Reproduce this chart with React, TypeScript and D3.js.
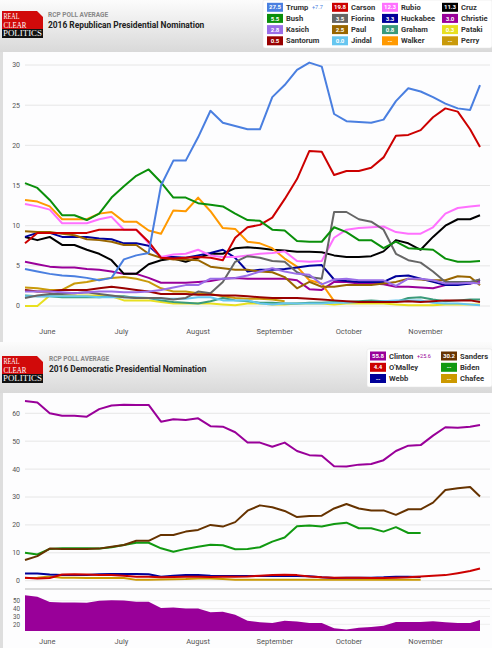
import { useEffect } from "react";
import * as d3 from "d3";

// sample dates (2015), every 5 days plus the last day
const dates = [
  "05-23", "05-28", "06-02", "06-07", "06-12", "06-17", "06-22", "06-27",
  "07-02", "07-07", "07-12", "07-17", "07-22", "07-27", "08-01", "08-06",
  "08-11", "08-16", "08-21", "08-26", "08-31", "09-05", "09-10", "09-15",
  "09-20", "09-25", "09-30", "10-05", "10-10", "10-15", "10-20", "10-25",
  "10-30", "11-04", "11-09", "11-14", "11-19", "11-23",
];

// Republican series
const trump = [4.6, 4.3, 4.0, 3.8, 3.7, 3.5, 3.2, 3.5, 5.8, 6.3, 6.6, 15, 18.1, 18.1, 21, 24.3, 22.8, 22.4, 22.0, 22.0, 26, 27.5, 29.4, 30.3, 29.8, 23.9, 23.0, 22.9, 22.8, 23.2, 25.5, 27.1, 26.7, 26.0, 25.2, 24.6, 24.4, 27.5];
const carson = [7.8, 9.1, 9.1, 9.1, 9.1, 9.1, 9.5, 9.5, 9.5, 9.5, 8.0, 6.0, 5.9, 6.0, 6.1, 6.0, 5.7, 8.5, 9.8, 10.1, 11.0, 13.3, 15.8, 19.3, 19.2, 16.3, 16.8, 16.8, 17.2, 18.5, 21.2, 21.3, 21.9, 23.5, 24.6, 24.2, 22.0, 19.8];
const rubio = [12.7, 12.4, 12.0, 10.3, 10.3, 10.3, 10.8, 11.1, 9.5, 9.5, 7.8, 6.1, 6.4, 6.5, 7.0, 6.3, 6.1, 6.1, 6.3, 6.5, 6.6, 6.8, 5.6, 5.5, 5.6, 8.5, 9.5, 9.7, 9.8, 9.9, 9.2, 9.0, 9.0, 9.8, 11.5, 12.2, 12.4, 12.5];
const cruz = [8.6, 8.2, 8.6, 7.6, 7.6, 7.0, 6.5, 5.7, 4.0, 4.0, 5.2, 5.7, 5.9, 5.5, 6.0, 6.5, 6.5, 7.2, 7.3, 7.2, 7.0, 6.9, 6.75, 6.75, 6.7, 6.3, 6.1, 6.1, 6.2, 6.8, 8.2, 7.8, 7.0, 8.6, 10.0, 10.8, 10.8, 11.3];
const bush = [15.3, 14.7, 13.2, 11.3, 11.3, 10.7, 11.5, 13.5, 14.9, 16.2, 17.0, 15.4, 13.5, 13.5, 12.8, 12.6, 12.4, 11.5, 10.7, 10.6, 9.5, 9.4, 8.1, 8.0, 8.0, 9.8, 9.2, 8.2, 8.2, 7.2, 8.0, 7.2, 7.1, 7.0, 5.9, 5.5, 5.5, 5.6];
const fiorina = [1.0, 1.3, 1.5, 1.5, 1.6, 1.7, 1.5, 1.3, 1.1, 1.0, 1.0, 1.0, 0.8, 1.0, 1.8, 1.6, 3.0, 5.5, 6.2, 6.0, 5.6, 5.5, 4.2, 3.6, 3.4, 11.7, 11.7, 10.8, 10.5, 9.5, 6.5, 5.7, 5.4, 4.3, 3.0, 3.0, 3.0, 3.3];
const huckabee = [8.6, 9.1, 9.1, 8.6, 8.6, 8.6, 8.4, 8.3, 7.8, 7.8, 7.5, 6.1, 6.1, 6.0, 6.3, 6.6, 7.0, 6.0, 4.3, 4.5, 4.5, 4.6, 4.8, 5.0, 5.1, 3.3, 3.1, 3.0, 3.0, 3.0, 3.7, 3.8, 3.4, 3.0, 2.6, 2.6, 2.8, 3.3];
const christie = [5.5, 5.2, 4.9, 4.8, 4.8, 4.6, 4.5, 4.3, 4.0, 4.0, 3.5, 2.9, 2.9, 2.9, 3.0, 3.1, 3.4, 3.5, 3.4, 3.4, 3.4, 3.4, 3.2, 2.1, 2.0, 3.0, 3.0, 2.8, 2.8, 2.7, 2.4, 2.4, 2.3, 2.2, 2.6, 2.8, 2.8, 3.0];
const kasich = [1.8, 1.8, 1.8, 1.7, 1.6, 1.7, 1.8, 1.8, 1.7, 1.7, 1.8, 2.0, 2.3, 2.6, 2.6, 3.4, 3.4, 3.5, 3.8, 4.3, 4.7, 4.3, 4.0, 3.9, 2.7, 3.3, 3.4, 3.2, 3.2, 3.2, 2.5, 3.4, 3.4, 3.2, 2.8, 2.8, 2.9, 2.8];
const paul = [9.3, 9.2, 9.2, 9.0, 8.8, 8.3, 8.2, 8.0, 7.6, 7.6, 6.5, 6.0, 5.8, 5.8, 5.7, 4.9, 4.7, 4.5, 4.5, 4.3, 4.2, 3.6, 2.2, 3.0, 2.4, 2.4, 2.6, 2.6, 2.6, 2.8, 3.0, 3.4, 3.3, 3.2, 3.2, 3.7, 3.6, 2.6];
const graham = [1.3, 1.2, 1.2, 1.1, 1.1, 1.1, 1.1, 1.2, 1.2, 1.0, 1.0, 0.7, 0.5, 0.4, 0.3, 0.6, 1.0, 0.7, 0.6, 0.4, 0.4, 0.3, 0.3, 0.4, 0.4, 0.5, 0.5, 0.6, 0.7, 0.6, 0.5, 1.0, 1.1, 0.8, 0.6, 0.7, 0.8, 0.8];
const pataki = [0, 0, 1.3, 1.3, 1.3, 1.3, 1.3, 1.2, 0.7, 0.7, 0.7, 0.5, 0.3, 0.3, 0.3, 0.3, 0.2, 0.1, 0.3, 0.3, 0.2, 0.2, 0.3, 0.3, 0.3, 0.2, 0.3, 0.3, 0.3, 0.3, 0.2, 0.1, 0.1, 0.1, 0.2, 0.2, 0.2, 0.2];
const santorum = [2.0, 1.8, 1.8, 2.0, 2.0, 2.0, 2.2, 2.4, 2.2, 2.0, 1.8, 1.5, 1.5, 1.5, 1.4, 1.4, 1.3, 1.3, 1.2, 1.1, 1.0, 1.0, 1.0, 0.9, 0.8, 0.7, 0.6, 0.5, 0.5, 0.5, 0.5, 0.6, 0.5, 0.6, 0.7, 0.7, 0.7, 0.5];
const jindal = [1.2, 1.2, 1.2, 1.2, 1.2, 1.2, 1.1, 1.1, 1.1, 1.1, 1.0, 0.9, 0.9, 0.9, 1.1, 1.1, 0.7, 0.7, 0.7, 0.3, 0.2, 0.3, 0.3, 0.3, 0.3, 0.4, 0.4, 0.5, 0.5, 0.6, 0.7, 0.7, 0.7, 0.4, 0.3, 0.3, 0.2, 0.1];
const walker = [13.2, 13.0, 12.4, 10.8, 10.8, 10.8, 11.5, 11.7, 10.5, 10.5, 9.4, 9.0, 11.9, 11.8, 13.5, 11.8, 9.7, 9.6, 8.0, 7.8, 7.2, 5.9, 4.9, 3.2, 2.8, 0.6, null, null, null, null, null, null, null, null, null, null, null, null];
const perry = [2.3, 2.2, 2.0, 2.0, 2.8, 3.0, 3.3, 3.5, 3.6, 3.4, 3.0, 2.2, 1.8, 1.8, 1.6, 1.5, 1.2, 1.0, 0.9, 0.9, 0.8, 0.6, null, null, null, null, null, null, null, null, null, null, null, null, null, null, null, null];

// Democratic series
const clinton = [64.4, 63.9, 60, 59.1, 59.1, 58.8, 61.5, 62.8, 63.1, 63, 63, 57, 57.9, 57.6, 58.2, 55.4, 55.2, 53.2, 49.5, 49.5, 48.0, 49.5, 46.5, 45.0, 44.8, 41.0, 40.9, 41.6, 41.8, 43.2, 46.5, 48.4, 48.6, 52, 55.0, 54.8, 55.2, 55.8];
const sanders = [7.4, 8.8, 11.5, 11.4, 11.4, 11.4, 11.5, 12.2, 12.8, 14.3, 14.3, 16.4, 16.4, 17.6, 18.2, 20.0, 19.4, 21.0, 25.1, 27.0, 26.3, 25.0, 22.8, 23.2, 23.3, 25.9, 27.5, 25.9, 25.2, 25.2, 23.6, 25.6, 25.6, 28, 32.5, 33.1, 33.6, 30.2];
const biden = [10.0, 9.4, 11.4, 11.6, 11.6, 11.6, 11.5, 12.0, 12.8, 13.6, 13.6, 11.6, 10.4, 11.4, 12.2, 12.9, 12.7, 11.3, 11.4, 12.0, 14.0, 15.5, 19.5, 19.8, 19.4, 20.3, 20.8, 18.8, 18.8, 17.6, 19.2, 17.1, 17.1, null, null, null, null, null];
const omalley = [1.1, 0.8, 1.0, 2.2, 2.3, 2.2, 2.0, 2.0, 1.8, 1.4, 1.4, 1.2, 1.3, 1.4, 1.4, 1.3, 1.4, 1.4, 1.5, 1.8, 2.0, 2.1, 2.0, 1.5, 1.2, 1.1, 1.1, 1.1, 1.0, 1.0, 1.1, 1.2, 1.5, 1.8, 2.0, 2.7, 3.5, 4.4];
const webb = [2.6, 2.6, 2.2, 2.0, 2.0, 2.0, 2.3, 2.4, 2.4, 2.4, 2.3, 1.4, 1.8, 2.0, 2.0, 1.8, 1.7, 1.7, 1.7, 1.7, 1.7, 1.7, 1.7, 1.6, 1.2, 1.0, 1.1, 1.1, 1.1, 1.2, 1.4, 1.4, 1.3, null, null, null, null, null];
const chafee = [1.0, 1.1, 1.5, 1.1, 1.1, 1.0, 1.0, 1.0, 1.0, 0.3, 0.3, 0.4, 0.5, 0.6, 0.8, 0.8, 0.6, 0.3, 0.3, 0.3, 0.3, 0.3, 0.3, 0.3, 0.3, 0.3, 0.3, 0.3, 0.3, 0.3, 0.3, 0.3, 0.3, null, null, null, null, null];

// legends (column by column)
const repNames = ["Trump", "Bush", "Kasich", "Santorum", "Carson", "Fiorina", "Paul", "Jindal", "Rubio", "Huckabee", "Graham", "Walker", "Cruz", "Christie", "Pataki", "Perry"];
const repLabels = ["27.5", "5.5", "2.8", "0.5", "19.8", "3.5", "2.5", "0.0", "12.3", "3.3", "0.8", "--", "11.3", "3.0", "0.3", "--"];
const repColors = ["#4a7fe0", "#0a8f0a", "#9a6ee8", "#990000", "#cc0000", "#666666", "#996600", "#66c6f0", "#ff70ff", "#000099", "#3a9a7a", "#ff9900", "#000000", "#990099", "#e8e020", "#c99a0a"];
const repSeries = [trump, bush, kasich, santorum, carson, fiorina, paul, jindal, rubio, huckabee, graham, walker, cruz, christie, pataki, perry];

const demNames = ["Clinton", "O'Malley", "Webb", "Sanders", "Biden", "Chafee"];
const demLabels = ["55.8", "4.4", "--", "30.2", "--", "--"];
const demColors = ["#990099", "#cc0000", "#000099", "#663300", "#119911", "#cc9900"];
const demSeries = [clinton, omalley, webb, sanders, biden, chafee];

const repTicks = [0, 5, 10, 15, 20, 25, 30];
const demTicks = [0, 10, 20, 30, 40, 50, 60];
const navTicks = [20, 30, 40, 50];

const W = 492;
const H = 648;
const font = "Roboto, 'Liberation Sans', Arial, sans-serif";

const parse = d3.timeParse("%Y-%m-%d");
const days = dates.map((d) => parse("2015-" + d) as Date);

const x = d3
  .scaleTime()
  .domain([parse("2015-05-23") as Date, parse("2015-11-23") as Date])
  .range([25, 480]);
const months = d3.timeMonth.range(parse("2015-06-01") as Date, parse("2015-12-01") as Date);

const yRep = d3.scaleLinear().domain([0, 30]).range([306, 65]);
const yDem = d3.scaleLinear().domain([0, 60]).range([580.7, 413.3]);
const yNav = d3.scaleLinear().domain([20, 50]).range([624.3, 600.7]);

type Pt = [Date, number | null];

const makeLine = (y: d3.ScaleLinear<number, number>) =>
  d3
    .line<Pt>()
    .defined((d) => d[1] != null)
    .x((d) => x(d[0]))
    .y((d) => y(d[1] as number));

const pts = (vals: (number | null)[]): Pt[] => vals.map((v, i) => [days[i], v]);

const Logo = ({ x0, y0 }: { x0: number; y0: number }) => (
  <g>
    <polygon
      points={`${x0},${y0} ${x0 + 35},${y0} ${x0 + 41},${y0 + 6} ${x0 + 41},${y0 + 18} ${x0},${y0 + 18}`}
      fill="#d10a0a"
    />
    <rect x={x0} y={y0 + 18} width={41} height={9} fill="#111" />
    <g fontFamily="'Liberation Serif', 'DejaVu Serif', serif" fill="#fff" fontSize={7.4}>
      <text x={x0 + 1.5} y={y0 + 8} textLength={16} lengthAdjust="spacingAndGlyphs">REAL</text>
      <text x={x0 + 1.5} y={y0 + 16.6} textLength={23} lengthAdjust="spacingAndGlyphs">CLEAR</text>
      <text x={x0 + 1} y={y0 + 25.4} textLength={39} lengthAdjust="spacingAndGlyphs">POLITICS</text>
    </g>
  </g>
);

const Swatch = ({ sx, cy, color, label }: { sx: number; cy: number; color: string; label: string }) => (
  <g>
    <rect x={sx} y={cy - 4.5} width={16} height={9} fill={color} />
    <text x={sx + 8} y={cy} dy="0.35em" textAnchor="middle" fontSize={6} fontWeight={700} fill="#fff" fontFamily={font}>
      {label}
    </text>
  </g>
);

export default function App() {
  useEffect(() => {
    document.body.style.margin = "0";
  }, []);

  const lineRep = makeLine(yRep);
  const lineDem = makeLine(yDem);

  const spread = clinton.map((v, i) => (v as number) - (sanders[i] as number));
  const navArea = d3
    .area<[Date, number]>()
    .x((d) => x(d[0]))
    .y0(631)
    .y1((d) => yNav(d[1]));

  const repColX = [267, 332, 382, 442];
  const repRowY = [7.3, 18.4, 29.6, 40.8];
  const demColX = [370, 441];
  const demRowY = [356, 367.3, 378.5];

  return (
    <svg width={W} height={H} style={{ display: "block" }} fontFamily={font}>
      <defs>
        <linearGradient id="hdr" x1="0" y1="0" x2="0" y2="1">
          <stop offset="0" stopColor="#fcfcfc" />
          <stop offset="1" stopColor="#d9d9d9" />
        </linearGradient>
      </defs>
      <rect width={W} height={H} fill="#dedede" />

      {/* Republican panel */}
      <rect x={0} y={0} width={W} height={52} fill="url(#hdr)" />
      <rect x={3} y={52} width={W - 3} height={290} fill="#fdfdfe" />
      <Logo x0={2} y0={11} />
      <text x={48} y={17.3} fontSize={6.5} fontWeight={700} fill="#888">RCP POLL AVERAGE</text>
      <text x={48} y={27.5} fontSize={8.4} fontWeight={700} fill="#222">2016 Republican Presidential Nomination</text>

      <rect x={263} y={0} width={229} height={48} fill="#fff" rx={2} stroke="#e2e2e2" strokeWidth={0.5} />
      {repNames.map((n, i) => {
        const col = Math.floor(i / 4);
        const row = i % 4;
        const sx = repColX[col];
        const cy = repRowY[row];
        return (
          <g key={n}>
            <Swatch sx={sx} cy={cy} color={repColors[i]} label={repLabels[i]} />
            <text x={sx + 19} y={cy} dy="0.35em" fontSize={7.6} fontWeight={700} fill="#333">{n}</text>
          </g>
        );
      })}
      <text x={312} y={repRowY[0]} dy="0.35em" fontSize={5.5} fill="#4a7fe0">+7.7</text>

      {repTicks.map((t) => (
        <g key={t}>
          <line x1={25} x2={490} y1={yRep(t)} y2={yRep(t)} stroke="#e6e6e6" />
          <text x={20} y={yRep(t)} dy="0.35em" textAnchor="end" fontSize={7} fill="#555">{t}</text>
        </g>
      ))}
      {months.map((m) => (
        <text key={+m} x={x(m)} y={334} textAnchor="middle" fontSize={7.5} fill="#555">
          {d3.timeFormat("%B")(m)}
        </text>
      ))}
      {repSeries
        .map((s, i) => ({ s, i }))
        .reverse()
        .map(({ s, i }) => (
          <path
            key={repNames[i]}
            d={lineRep(pts(s)) || ""}
            fill="none"
            stroke={repColors[i]}
            strokeWidth={2}
            strokeLinejoin="round"
          />
        ))}

      {/* Democratic panel */}
      <rect x={0} y={342} width={W} height={51} fill="url(#hdr)" />
      <rect x={3} y={393} width={W - 3} height={255} fill="#fdfdfe" />
      <Logo x0={2} y0={356} />
      <text x={49} y={361} fontSize={6.5} fontWeight={700} fill="#888">RCP POLL AVERAGE</text>
      <text x={49} y={372.3} fontSize={8.4} fontWeight={700} fill="#222">2016 Democratic Presidential Nomination</text>

      <rect x={367} y={349} width={125} height={38} fill="#fff" rx={2} stroke="#e2e2e2" strokeWidth={0.5} />
      {demNames.map((n, i) => {
        const col = Math.floor(i / 3);
        const row = i % 3;
        const sx = demColX[col];
        const cy = demRowY[row];
        return (
          <g key={n}>
            <Swatch sx={sx} cy={cy} color={demColors[i]} label={demLabels[i]} />
            <text x={sx + 19} y={cy} dy="0.35em" fontSize={7.6} fontWeight={700} fill="#333">{n}</text>
          </g>
        );
      })}
      <text x={417} y={demRowY[0]} dy="0.35em" fontSize={5.5} fill="#990099">+25.6</text>

      {demTicks.map((t) => (
        <g key={t}>
          <line x1={25} x2={490} y1={yDem(t)} y2={yDem(t)} stroke="#e6e6e6" />
          <text x={20} y={yDem(t)} dy="0.35em" textAnchor="end" fontSize={7} fill="#555">{t}</text>
        </g>
      ))}
      {demSeries
        .map((s, i) => ({ s, i }))
        .reverse()
        .map(({ s, i }) => (
          <path
            key={demNames[i]}
            d={lineDem(pts(s)) || ""}
            fill="none"
            stroke={demColors[i]}
            strokeWidth={2}
            strokeLinejoin="round"
          />
        ))}

      {/* navigator */}
      <line x1={25} x2={W} y1={589} y2={589} stroke="#b8b8b8" />
      {navTicks.map((t) => (
        <g key={t}>
          <line x1={25} x2={490} y1={yNav(t)} y2={yNav(t)} stroke="#eeeeee" />
          <text x={20} y={yNav(t)} dy="0.35em" textAnchor="end" fontSize={6.3} fill="#555">{t}</text>
        </g>
      ))}
      <path d={navArea(spread.map((v, i) => [days[i], v] as [Date, number])) || ""} fill="#990099" />
      {months.map((m) => (
        <text key={+m} x={x(m)} y={644} textAnchor="middle" fontSize={7.5} fill="#555">
          {d3.timeFormat("%B")(m)}
        </text>
      ))}
    </svg>
  );
}
